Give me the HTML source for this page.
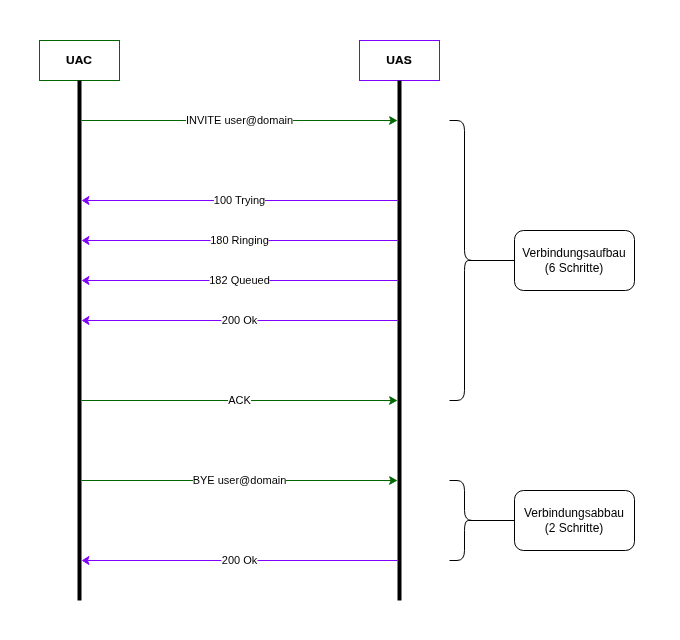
<!DOCTYPE html>
<html><head><meta charset="utf-8"><title>SIP</title>
<style>
html,body{margin:0;padding:0;background:#fff;}
body{width:680px;height:640px;overflow:hidden;}
svg{display:block;will-change:transform;font-family:"Liberation Sans",Helvetica,Arial,sans-serif;}
.l{font-size:11px;fill:#000;text-anchor:middle;}
.b{font-size:12px;fill:#000;text-anchor:middle;}
.h{font-size:12px;font-weight:bold;fill:#000;text-anchor:middle;stroke:#000;stroke-width:0.15px;}
</style></head><body>
<svg width="680" height="640" viewBox="0 0 680 640">
<rect x="0" y="0" width="680" height="640" fill="#fff"/>
<g transform="translate(0.5,0.5)" stroke-miterlimit="10">
<rect x="39" y="40" width="80" height="40" fill="#fff" stroke="#006600"/>
<text class="h" transform="translate(78.5,63.4) scale(1,0.95)" x="0" y="0">UAC</text>
<rect x="359" y="40" width="80" height="40" fill="#fff" stroke="#7f00ff"/>
<text class="h" transform="translate(398.5,63.4) scale(1,0.95)" x="0" y="0">UAS</text>
<path d="M79 80V600" stroke="#000" stroke-width="4" fill="none"/>
<path d="M399 80V600" stroke="#000" stroke-width="4" fill="none"/>
<path d="M81 120H390.76" stroke="#006600" fill="none"/>
<path d="M396.01 120L389.01 123.8L390.76 120L389.01 116.2Z" fill="#006600" stroke="#006600"/>
<rect x="185.5" y="113" width="107" height="14" fill="#fff"/>
<text class="l" x="239" y="123.5">INVITE user@domain</text>
<path d="M397 200H86.9" stroke="#7f00ff" fill="none"/>
<path d="M81.99 200L88.5 196L86.9 200L88.5 204Z" fill="#7f00ff" stroke="#7f00ff"/>
<rect x="213.5" y="193" width="51" height="14" fill="#fff"/>
<text class="l" x="239" y="203.5">100 Trying</text>
<path d="M397 240H86.9" stroke="#7f00ff" fill="none"/>
<path d="M81.99 240L88.5 236L86.9 240L88.5 244Z" fill="#7f00ff" stroke="#7f00ff"/>
<rect x="210.0" y="233" width="58" height="14" fill="#fff"/>
<text class="l" x="239" y="243.5">180 Ringing</text>
<path d="M397 280H86.9" stroke="#7f00ff" fill="none"/>
<path d="M81.99 280L88.5 276L86.9 280L88.5 284Z" fill="#7f00ff" stroke="#7f00ff"/>
<rect x="209.0" y="273" width="60" height="14" fill="#fff"/>
<text class="l" x="239" y="283.5">182 Queued</text>
<path d="M397 320H86.9" stroke="#7f00ff" fill="none"/>
<path d="M81.99 320L88.5 316L86.9 320L88.5 324Z" fill="#7f00ff" stroke="#7f00ff"/>
<rect x="221.0" y="313" width="36" height="14" fill="#fff"/>
<text class="l" x="239" y="323.5">200 Ok</text>
<path d="M81 400H390.76" stroke="#006600" fill="none"/>
<path d="M396.01 400L389.01 403.8L390.76 400L389.01 396.2Z" fill="#006600" stroke="#006600"/>
<rect x="227.5" y="393" width="23" height="14" fill="#fff"/>
<text class="l" x="239" y="403.5">ACK</text>
<path d="M81 480H390.76" stroke="#006600" fill="none"/>
<path d="M396.01 480L389.01 483.8L390.76 480L389.01 476.2Z" fill="#006600" stroke="#006600"/>
<rect x="192.5" y="473" width="93" height="14" fill="#fff"/>
<text class="l" x="239" y="483.5">BYE user@domain</text>
<path d="M397 560H86.9" stroke="#7f00ff" fill="none"/>
<path d="M81.99 560L88.5 556L86.9 560L88.5 564Z" fill="#7f00ff" stroke="#7f00ff"/>
<rect x="221.0" y="553" width="36" height="14" fill="#fff"/>
<text class="l" x="239" y="563.5">200 Ok</text>
<path d="M449 120L456.5 120Q464 120 464 130L464 250.0Q464 260.0 471.5 260.0L475.25 260.0Q479 260.0 471.5 260.0L467.75 260.0Q464 260.0 464 270.0L464 390Q464 400 456.5 400L449 400" stroke="#000" fill="none"/>
<path d="M471.5 260.0L514 260.0" stroke="#000" fill="none"/>
<path d="M449 480L456.5 480Q464 480 464 490L464 510.0Q464 520.0 471.5 520.0L475.25 520.0Q479 520.0 471.5 520.0L467.75 520.0Q464 520.0 464 530.0L464 550Q464 560 456.5 560L449 560" stroke="#000" fill="none"/>
<path d="M471.5 520.0L514 520.0" stroke="#000" fill="none"/>
<rect x="514" y="230" width="120" height="60" rx="9" ry="9" fill="#fff" stroke="#000"/>
<text class="b" x="573.5" y="256.5">Verbindungsaufbau</text><text class="b" x="573.5" y="271.5">(6 Schritte)</text>
<rect x="514" y="490" width="120" height="60" rx="9" ry="9" fill="#fff" stroke="#000"/>
<text class="b" x="573.5" y="516.5">Verbindungsabbau</text><text class="b" x="573.5" y="531.5">(2 Schritte)</text>
</g></svg></body></html>
